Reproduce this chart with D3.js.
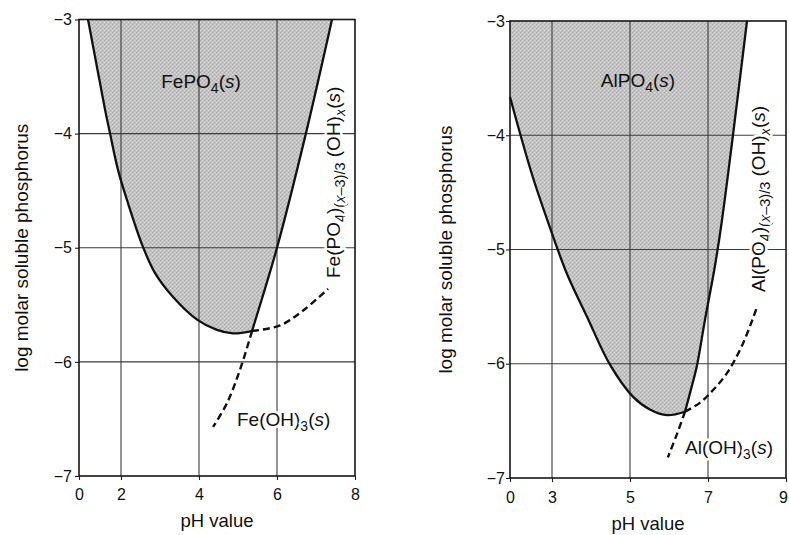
<!DOCTYPE html>
<html>

<head>
  <meta charset="utf-8">
  <title>Phosphate solubility diagrams</title>
  <script src="https://cdn.jsdelivr.net/npm/d3@7"></script>
</head>
<style>
  html,
  body {
    margin: 0;
    padding: 0;
    background: #fff;
    overflow: hidden
  }

  svg {
    font-family: 'Liberation Sans', Arial, sans-serif;
  }

  .grid line {
    stroke: #3c3c3c;
    stroke-width: 1.1;
  }

  .axis path {
    display: none;
  }

  .axis line {
    stroke: #222;
    stroke-width: 1.1;
  }

  .axis text {
    font-family: 'Liberation Sans', Arial, sans-serif;
    font-size: 16px;
    fill: #111;
  }

  .halo {
    stroke: #fff;
    stroke-width: 5;
    paint-order: stroke;
    stroke-linejoin: round;
  }
</style>

<body>
  <div id="chart"></div>
</body>
<script>
  // values as [pH, log molar P]
  const feTicksX = [0, 2, 4, 6, 8]
  const alTicksX = [0, 3, 5, 7, 9]
  const ticksY = [-3, -4, -5, -6, -7]

  const fePhosphate = [[0.43, -3.0], [0.86, -3.42], [1.24, -3.79], [1.48, -4.0], [1.86, -4.32], [2.18, -4.61],
    [2.56, -4.99], [2.87, -5.22], [3.33, -5.43], [3.95, -5.63], [4.46, -5.72], [4.87, -5.75], [5.36, -5.73]]
  const feHydroxide = [[5.36, -5.73], [5.62, -5.44], [6.0, -5.0], [6.74, -4.0], [7.41, -3.0]]
  const feMixedDashed = [[5.36, -5.73], [6.08, -5.68], [6.67, -5.55], [7.31, -5.36]]
  const feHydroxideDashed = [[5.36, -5.73], [5.05, -6.07], [4.72, -6.36], [4.36, -6.57]]

  const alPhosphate = [[0, -3.665], [0.71, -3.98], [1.64, -4.37], [2.86, -4.81], [3.38, -5.21], [3.9, -5.59],
    [4.49, -6.01], [5.08, -6.29], [5.51, -6.4], [5.95, -6.45], [6.41, -6.42]]
  const alHydroxide = [[6.41, -6.42], [6.59, -6.19], [6.72, -6.01], [6.92, -5.62], [7.18, -5.14], [7.36, -4.74],
    [7.64, -4.0], [8.0, -3.0]]
  const alMixedDashed = [[6.41, -6.42], [6.8, -6.34], [7.13, -6.23], [7.49, -6.08], [7.9, -5.82], [8.26, -5.5]]
  const alHydroxideDashed = [[6.41, -6.42], [6.21, -6.61], [5.97, -6.82]]

  const width = 789, height = 535

  const svg = d3.select('#chart')
    .append('svg')
    .attr('width', width)
    .attr('height', height)

  const pat = svg.append('defs').append('pattern')
    .attr('id', 'stipple')
    .attr('width', 4).attr('height', 4)
    .attr('patternUnits', 'userSpaceOnUse')
  pat.append('rect').attr('width', 4).attr('height', 4).attr('fill', '#c4c4c4')
  pat.append('rect').attr('x', 0).attr('y', 0).attr('width', 1).attr('height', 1).attr('fill', '#a6a6a6')
  pat.append('rect').attr('x', 2).attr('y', 2).attr('width', 1).attr('height', 1).attr('fill', '#adadad')
  pat.append('rect').attr('x', 2).attr('y', 0).attr('width', 1).attr('height', 1).attr('fill', '#dadada')
  pat.append('rect').attr('x', 0).attr('y', 2).attr('width', 1).attr('height', 1).attr('fill', '#dedede')
  pat.append('rect').attr('x', 1).attr('y', 3).attr('width', 1).attr('height', 1).attr('fill', '#b4b4b4')

  // text with chemistry subscripts: parts are [string, kind]
  function chem(sel, parts, size, subSize) {
    let shift = 0
    parts.forEach(p => {
      const kind = p[1] || ''
      const sub = kind.indexOf('sub') === 0
      const want = sub ? 5 : 0
      sel.append('tspan')
        .attr('dy', want - shift)
        .style('font-size', (sub ? subSize : size) + 'px')
        .style('font-style', kind.endsWith('i') ? 'italic' : null)
        .text(p[0])
      shift = want
    })
    return sel
  }

  function panel(o) {
    const x = d3.scaleLinear().domain(o.xDomain).range(o.xRange)
    const y = d3.scaleLinear().domain([-7, -3]).range(o.yRange)
    const xMin = o.xTicks[0], xMax = o.xTicks[o.xTicks.length - 1]
    const line = d3.line().x(d => x(d[0])).y(d => y(d[1])).curve(d3.curveCatmullRom)
    const g = svg.append('g')

    const field = line(o.phosphate) + line(o.hydroxide).replace('M', 'L') +
      o.corner.map(d => 'L' + x(d[0]) + ',' + y(d[1])).join('') + 'Z'
    g.append('path').attr('d', field).attr('fill', 'url(#stipple)')

    const grid = g.append('g').attr('class', 'grid')
    grid.selectAll('.gx').data(o.xTicks.slice(1, -1)).enter().append('line')
      .attr('x1', d => x(d)).attr('x2', d => x(d))
      .attr('y1', y(-3)).attr('y2', y(-7))
    grid.selectAll('.gy').data(ticksY.slice(1, -1)).enter().append('line')
      .attr('x1', x(xMin)).attr('x2', x(xMax))
      .attr('y1', d => y(d)).attr('y2', d => y(d))

    g.append('g').attr('class', 'axis')
      .attr('transform', 'translate(0,' + y(-7) + ')')
      .call(d3.axisBottom(x).tickValues(o.xTicks).tickFormat(d3.format('d')).tickSize(4).tickPadding(o.xPad))
      .selectAll('text').filter(d => d === xMax).attr('dx', o.lastDx)
    g.append('g').attr('class', 'axis')
      .attr('transform', 'translate(' + x(xMin) + ',0)')
      .call(d3.axisLeft(y).tickValues(ticksY).tickFormat(d3.format('d')).tickSize(4).tickPadding(o.yPad))

    g.append('rect')
      .attr('x', x(xMin)).attr('y', y(-3))
      .attr('width', x(xMax) - x(xMin)).attr('height', y(-7) - y(-3))
      .attr('fill', 'none').attr('stroke', '#161616').attr('stroke-width', 1.6)

    g.append('text')
      .attr('x', (x(xMin) + x(xMax)) / 2).attr('y', o.xTitleY)
      .attr('text-anchor', 'middle').style('font-size', '18.5px').attr('fill', '#111')
      .text('pH value')
    g.append('text')
      .attr('transform', 'translate(' + o.yTitleX + ',' + (y(-3) + y(-7)) / 2 + ') rotate(-90)')
      .attr('text-anchor', 'middle').style('font-size', '19px').attr('fill', '#111')
      .text('log molar soluble phosphorus')

    // species labels
    chem(g.append('text').attr('x', o.solidAt[0]).attr('y', o.solidAt[1]).attr('text-anchor', 'middle').attr('fill', '#111'),
      [[o.el + 'PO'], ['4', 'sub'], ['('], ['s', 'i'], [')']], 19, 14)
    chem(g.append('text').attr('class', 'halo').attr('fill', '#111')
      .attr('transform', 'translate(' + o.mixedAt[0] + ',' + o.mixedAt[1] + ') rotate(-90)'),
      [[o.el + '(PO'], ['4', 'sub'], [')'], ['(', 'sub'], ['x', 'subi'], ['\u20133)/3', 'sub'], [' (OH)'], ['x', 'subi'],
        ['('], ['s', 'i'], [')']], 19, 14.5)
    chem(g.append('text').attr('class', 'halo').attr('x', o.hydroxideAt[0]).attr('y', o.hydroxideAt[1]).attr('fill', '#111'),
      [[o.el + '(OH)'], ['3', 'sub'], ['('], ['s', 'i'], [')']], 19, 14)

    g.append('path').attr('d', line(o.phosphate))
      .attr('fill', 'none').attr('stroke', '#111').attr('stroke-width', 2.3)
    g.append('path').attr('d', line(o.hydroxide))
      .attr('fill', 'none').attr('stroke', '#111').attr('stroke-width', 2.3)
    g.selectAll('.dashed').data([o.mixedDashed, o.hydroxideDashed]).enter().append('path')
      .attr('d', line)
      .attr('fill', 'none').attr('stroke', '#111').attr('stroke-width', 2.4)
      .attr('stroke-dasharray', '7,4')
  }

  panel({
    el: 'Fe',
    xTicks: feTicksX, xDomain: [0, 2, 8], xRange: [79, 121, 355], yRange: [476, 19.5],
    xPad: 8.5, yPad: 3, xTitleY: 527, yTitleX: 28, lastDx: 0,
    phosphate: fePhosphate, hydroxide: feHydroxide, corner: [],
    mixedDashed: feMixedDashed, hydroxideDashed: feHydroxideDashed,
    solidAt: [201, 88], mixedAt: [340, 278], hydroxideAt: [237, 426]
  })

  panel({
    el: 'Al',
    xTicks: alTicksX, xDomain: [0, 3, 9], xRange: [510, 552, 786], yRange: [478, 21],
    xPad: 9.5, yPad: 1, xTitleY: 530, yTitleX: 452, lastDx: -3,
    phosphate: alPhosphate, hydroxide: alHydroxide, corner: [[0, -3]],
    mixedDashed: alMixedDashed, hydroxideDashed: alHydroxideDashed,
    solidAt: [638, 87], mixedAt: [765, 292], hydroxideAt: [685, 454]
  })
</script>

</html>
